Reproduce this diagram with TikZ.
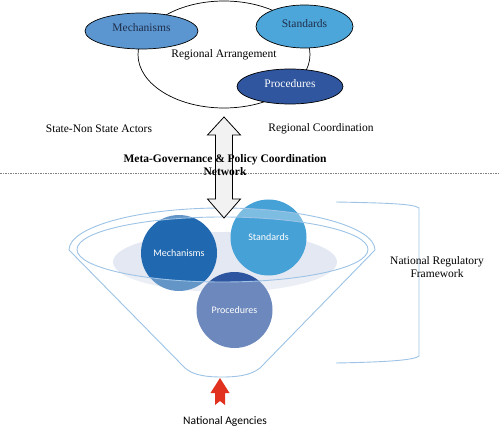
\documentclass[tikz,border=0pt]{standalone}
\usepackage{fontspec}
\setmainfont{Liberation Serif}
\newfontfamily\calib{Carlito}
\usepackage{tikz}
\usetikzlibrary{shapes.geometric,positioning}
\definecolor{regmech}{HTML}{5B96D0}
\definecolor{regstd}{HTML}{4CA6D9}
\definecolor{regproc}{HTML}{2F569F}
\definecolor{natmech}{HTML}{2068AF}
\definecolor{natstd}{HTML}{46A1D6}
\definecolor{natproc}{HTML}{2E55A0}
\definecolor{natgrey}{HTML}{E3E8F2}
\definecolor{rimblue}{HTML}{9DC3E6}
\definecolor{navytext}{HTML}{1F2D4A}
\definecolor{agencyred}{HTML}{E0321F}
\tikzset{
  regblob/.style={ellipse, draw=black, line width=0.7pt, inner sep=0pt, text depth=6pt, font=\fontsize{11.5}{13}\selectfont, text=navytext},
  natcirc/.style={circle, inner sep=0pt, minimum size=76pt, font=\calib\fontsize{10}{12}\selectfont, text=white},
  lbl/.style={font=\fontsize{11.5}{13}\selectfont, align=center},
  rimline/.style={draw=rimblue, line width=0.9pt},
}

\begin{document}
\begin{tikzpicture}[x=1pt,y=-1pt]
\useasboundingbox (0,0) rectangle (500,430);
% regional nodes
\node[regblob, fill=white, minimum width=172pt, minimum height=107pt] (reg) at (224,54.5) {};%
\node[lbl] (regtxt) at (reg.center) {Regional Arrangement};%
\node[regblob, fill=regmech, minimum width=113pt, minimum height=36pt] (rmech) at (141.5,31) {Mechanisms};%
\node[regblob, fill=regstd, minimum width=97pt, minimum height=43pt] (rstd) at (304.5,26.5) {Standards};%
\node[regblob, fill=regproc, text=white, minimum width=106pt, minimum height=35pt] (rproc) at (290,86.5) {Procedures};%
\node[lbl] (actors) at (99,129) {State-Non State Actors};%
\node[lbl] (coord) at (321,129) {Regional Coordination};%

% divider
\coordinate (dl) at (0,173);
\coordinate (dr) at (500,173);
\draw[gray, line width=0.6pt, dash pattern=on 2pt off 1.2pt on 0.6pt off 1.2pt] (dl) -- (dr);

% national nodes
\fill[natgrey] (225,262) ellipse [x radius=112, y radius=30];
\node[natcirc, fill=natmech] (nmech) at (179,253) {Mechanisms};%
\node[natcirc, fill=natstd] (nstd) at (268.5,237.5) {Standards};%
\node[natcirc, fill=natproc] (nproc) at (234.5,310) {Procedures};%

% funnel
\draw[rimline, fill=white, fill opacity=0.3, even odd rule]
  (69,250) .. controls (69,227) and (137,208) .. (222,208)
  .. controls (307,208) and (375,227) .. (375,250)
  -- (260,368) .. controls (250,376) and (235,377) .. (222,377)
  .. controls (209,377) and (194,376) .. (185,368) -- cycle
  (222.5,249.5) ellipse [x radius=145.5, y radius=32.5];
\draw[rimline] (336,202) .. controls (390,203) and (414,204) .. (419,208)
  -- (419,356) .. controls (414,360) and (390,362) .. (336,363);
\node[lbl] (natreg) at (437,267) {National Regulatory\\Framework};%

% arrows
\coordinate (atop) at (224,117);
\coordinate (abot) at (224,218);
\draw[black, fill=black!5, line width=0.8pt] (atop) -- (240.5,135) -- (232.5,135) -- (232.5,199)
  -- (240.5,199) -- (abot) -- (207.5,199) -- (215.5,199) -- (215.5,135) -- (207.5,135) -- cycle;
\node[lbl, font=\bfseries\fontsize{11.5}{13}\selectfont] (meta) at (225,165.5) {Meta-Governance \& Policy Coordination\\Network};%
\coordinate (rtip) at (220,378);
\fill[agencyred] (rtip) -- (229.5,393) -- (225,393) -- (225,405) -- (220,401) -- (215,405)
  -- (215,393) -- (210.5,393) -- cycle;
\node[lbl, font=\calib\fontsize{11.5}{13}\selectfont] (agency) at (225,421) {National Agencies};%
\end{tikzpicture}
\end{document}
